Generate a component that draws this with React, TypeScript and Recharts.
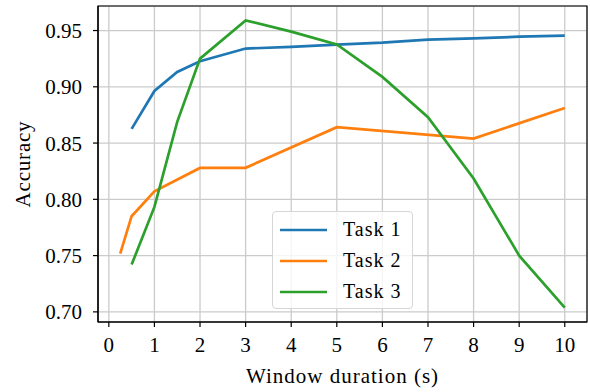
import React from 'react';
import {
  LineChart,
  Line,
  XAxis,
  YAxis,
  CartesianGrid,
  Legend,
  ReferenceArea
} from 'recharts';

const task1X = [0.5, 1, 1.5, 2, 3, 4, 5, 6, 7, 8, 9, 10];
const task1Acc = [0.8626, 0.8963, 0.9132, 0.9227, 0.934, 0.9355, 0.9375, 0.9393, 0.942, 0.943, 0.9445, 0.9455];

const task2X = [0.25, 0.5, 1, 2, 3, 5, 8, 10];
const task2Acc = [0.7518, 0.785, 0.8072, 0.8279, 0.828, 0.8641, 0.854, 0.8812];

const task3X = [0.5, 1, 1.5, 2, 3, 4, 5, 6, 7, 8, 9, 10];
const task3Acc = [0.742, 0.7933, 0.8688, 0.925, 0.959, 0.949, 0.9376, 0.9088, 0.873, 0.8185, 0.75, 0.7038];

const xTicks = [0, 1, 2, 3, 4, 5, 6, 7, 8, 9, 10];
const yTicks = [0.7, 0.75, 0.8, 0.85, 0.9, 0.95];

const xDomain = [-0.2375, 10.4875];
const yDomain = [0.691, 0.9718];

const series = [
  { name: 'Task 1', color: '#1f77b4', xs: task1X, ys: task1Acc },
  { name: 'Task 2', color: '#ff7f0e', xs: task2X, ys: task2Acc },
  { name: 'Task 3', color: '#2ca02c', xs: task3X, ys: task3Acc }
];

const FONT = 'Liberation Serif, DejaVu Serif, serif';

function LegendBox() {
  return (
    <div
      style={{
        border: '1px solid #d6d6d6',
        borderRadius: 4,
        background: 'rgba(255,255,255,0.8)',
        boxSizing: 'border-box',
        width: 141,
        height: 98,
        padding: '0 0 0 7px'
      }}
    >
      {series.map((s) => (
        <div
          key={s.name}
          style={{ display: 'flex', alignItems: 'center', height: 31, marginTop: s.name === 'Task 1' ? 2 : 0 }}
        >
          <svg width={47} height={6}>
            <line x1={0} y1={3} x2={47} y2={3} stroke={s.color} strokeWidth={2.7} />
          </svg>
          <span
            style={{
              marginLeft: 16,
              fontFamily: FONT,
              fontSize: 20,
              letterSpacing: 1,
              color: '#000'
            }}
          >
            {s.name}
          </span>
        </div>
      ))}
    </div>
  );
}

export default function App() {
  const tickStyle = { fontFamily: FONT, fontSize: 21, fill: '#000' };
  return (
    <div style={{ position: 'absolute', left: 0, top: 0, width: 590, height: 392, background: '#fff' }}>
      <LineChart width={590} height={392} margin={{ top: 6, right: 3, left: 0, bottom: 0 }}>
        <CartesianGrid stroke="#cbcbcb" strokeWidth={1.3} />
        <XAxis
          type="number"
          dataKey="x"
          domain={xDomain}
          ticks={xTicks}
          allowDataOverflow
          height={70}
          tickSize={5}
          tickMargin={10}
          stroke="#000"
          strokeWidth={1.2}
          tick={tickStyle}
          label={{
            content: ({ viewBox }: any) => (
              <text
                x={viewBox.x + viewBox.width / 2}
                y={viewBox.y + 61}
                textAnchor="middle"
                fontFamily={FONT}
                fontSize={21}
                letterSpacing={1}
                fill="#000"
              >
                Window duration (s)
              </text>
            )
          }}
        />
        <YAxis
          type="number"
          domain={yDomain}
          ticks={yTicks}
          allowDataOverflow
          width={98}
          tickSize={5}
          tickMargin={11}
          stroke="#000"
          strokeWidth={1.2}
          tick={tickStyle}
          tickFormatter={(v: number) => v.toFixed(2)}
          label={{
            content: ({ viewBox }: any) => {
              const cx = 30;
              const cy = viewBox.y + viewBox.height / 2;
              return (
                <text
                  x={cx}
                  y={cy}
                  transform={`rotate(-90 ${cx} ${cy})`}
                  textAnchor="middle"
                  fontFamily={FONT}
                  fontSize={21}
                  letterSpacing={0.8}
                  fill="#000"
                >
                  Accuracy
                </text>
              );
            }
          }}
        />
        <ReferenceArea
          x1={xDomain[0]}
          x2={xDomain[1]}
          y1={yDomain[0]}
          y2={yDomain[1]}
          fill="none"
          stroke="#000"
          strokeWidth={1.2}
          ifOverflow="visible"
        />
        {series.map((s) => (
          <Line
            key={s.name}
            name={s.name}
            data={s.xs.map((x, i) => ({ x, y: s.ys[i] }))}
            dataKey="y"
            stroke={s.color}
            strokeWidth={2.7}
            dot={false}
            isAnimationActive={false}
          />
        ))}
        <Legend
          layout="vertical"
          align="center"
          verticalAlign="middle"
          wrapperStyle={{ left: 272, top: 211, width: 141, height: 98 }}
          content={() => <LegendBox />}
        />
      </LineChart>
    </div>
  );
}
